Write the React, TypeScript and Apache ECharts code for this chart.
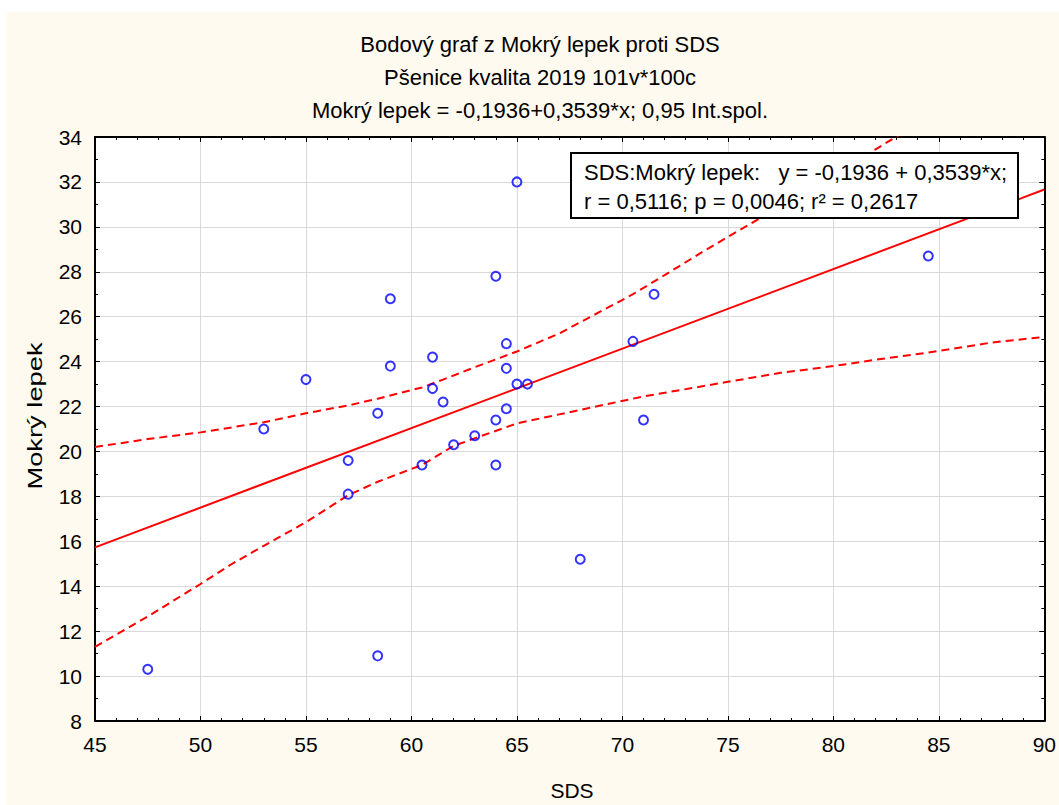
import React, { useEffect, useRef } from "react";
import * as echarts from "echarts";

const FONT = "'Liberation Sans', Arial, sans-serif";

const titleLines = [
  "Bodový graf z Mokrý lepek proti SDS",
  "Pšenice kvalita 2019 101v*100c",
  "Mokrý lepek = -0,1936+0,3539*x; 0,95 Int.spol.",
];
const xAxisName = "SDS";
const yAxisName = "Mokrý lepek";
const statsLine1 = "SDS:Mokrý lepek:   y = -0,1936 + 0,3539*x;";
const statsLine2 = "r = 0,5116; p = 0,0046; r² = 0,2617";

// scatter points (SDS, Mokrý lepek)
const sdsValues = [
  65, 64, 59, 64.5, 61, 59, 55, 64.5, 65, 65.5, 61, 61.5, 58.4, 64.5, 64,
  53, 57, 57, 60.5, 62, 63, 64, 68, 47.5, 58.4, 71.5, 70.5, 71, 84.5,
];
const lepekValues = [
  32.0, 27.8, 26.8, 24.8, 24.2, 23.8, 23.2, 23.7, 23.0, 23.0, 22.8, 22.2, 21.7, 21.9, 21.4,
  21.0, 19.6, 18.1, 19.4, 20.3, 20.7, 19.4, 15.2, 10.3, 10.9, 27.0, 24.9, 21.4, 28.7,
];

// regression line endpoints
const regX = [45, 90];
const regY = [15.73, 31.66];

// 0.95 confidence band
const upperX = [45, 47.5, 50, 53, 55, 57, 58.4, 60.5, 61.5, 63, 65, 67, 68.5, 70.5, 72, 74, 76, 78, 80, 82, 84];
const upperY = [20.2, 20.55, 20.85, 21.3, 21.7, 22.05, 22.35, 22.85, 23.2, 23.75, 24.45, 25.25, 26.0, 27.0, 27.85, 29.0, 30.1, 31.2, 32.3, 33.45, 34.6];
const lowerX = [45, 47.5, 50, 51.5, 53, 55, 57, 58.4, 60.5, 62, 65, 68, 71, 75, 77.5, 80, 82.5, 84.5, 87.5, 90];
const lowerY = [11.3, 12.65, 14.1, 15.0, 15.8, 16.85, 18.05, 18.65, 19.4, 20.25, 21.25, 21.85, 22.45, 23.1, 23.5, 23.8, 24.15, 24.4, 24.85, 25.1];

const xTicks = { min: 45, max: 90, interval: 5 };
const yTicks = { min: 8, max: 34, interval: 2 };

function zip(a: number[], b: number[]) {
  return a.map((v, i) => [v, b[i]]);
}

export default function App() {
  const ref = useRef<HTMLDivElement>(null);
  useEffect(() => {
    if (!ref.current) return;
    const chart = echarts.init(ref.current, undefined, { renderer: "svg" });
    const axisLine = { show: true, onZero: false, lineStyle: { color: "#000", width: 2 } };
    const tick = { show: true, inside: true, length: 5, lineStyle: { color: "#000", width: 1 } };
    const label = { fontSize: 21, color: "#000", fontFamily: FONT };
    const split = { show: true, lineStyle: { color: "#d9d9d9", width: 1, type: "solid" } };
    const dashed = { color: "#ff0000", width: 2, type: [8, 5] };
    const txt = (text: string, size: number, align: string) => ({
      text, fontSize: size, fontFamily: FONT, fill: "#000", textAlign: align, textVerticalAlign: "middle",
    });
    chart.setOption({
      animation: false,
      backgroundColor: "transparent",
      grid: { left: 95, top: 137, right: 12, bottom: 84, show: true, backgroundColor: "#ffffff", borderWidth: 0 },
      xAxis: [
        {
          type: "value", ...xTicks, position: "bottom", axisLine, axisTick: tick,
          minorTick: { show: true, splitNumber: 5, length: 3, lineStyle: { color: "#000" } },
          splitLine: split, axisLabel: { ...label, margin: 13 },
        },
        {
          type: "value", ...xTicks, position: "top", axisLine, axisTick: tick,
          minorTick: { show: true, splitNumber: 5, length: 3, lineStyle: { color: "#000" } },
          splitLine: { show: false }, axisLabel: { show: false },
        },
      ],
      yAxis: [
        {
          type: "value", ...yTicks, position: "left", axisLine, axisTick: tick,
          minorTick: { show: true, splitNumber: 2, length: 3, lineStyle: { color: "#000" } },
          splitLine: split, axisLabel: { ...label, margin: 13 },
        },
        {
          type: "value", ...yTicks, position: "right", axisLine, axisTick: tick,
          minorTick: { show: true, splitNumber: 2, length: 3, lineStyle: { color: "#000" } },
          splitLine: { show: false }, axisLabel: { show: false },
        },
      ],
      series: [
        {
          type: "line", data: zip(upperX, upperY), showSymbol: false, symbol: "none",
          lineStyle: dashed, clip: true, z: 2,
        },
        {
          type: "line", data: zip(lowerX, lowerY), showSymbol: false, symbol: "none",
          lineStyle: dashed, clip: true, z: 2,
        },
        {
          type: "line", data: zip(regX, regY), showSymbol: false, symbol: "none",
          lineStyle: { color: "#ff0000", width: 2 }, z: 3,
        },
        {
          type: "scatter", data: zip(sdsValues, lepekValues), symbol: "circle", symbolSize: 9,
          itemStyle: { color: "rgba(255,255,255,0)", borderColor: "#0000ff", borderWidth: 2 }, z: 4,
        },
      ],
      graphic: [
        ...titleLines.map((t, i) => ({
          type: "text", x: 540, y: 44 + i * 33, style: txt(t, 22, "center"),
        })),
        { type: "text", x: 572, y: 790, style: txt(xAxisName, 21, "center") },
        {
          type: "text", x: 35, y: 416, rotation: Math.PI / 2, scaleX: 1.3,
          style: txt(yAxisName, 21, "center"),
        },
        {
          type: "rect", z: 100,
          shape: { x: 571, y: 153, width: 447, height: 65 },
          style: { fill: "#ffffff", stroke: "#000000", lineWidth: 2 },
        },
        { type: "text", x: 584, y: 172, z: 101, style: txt(statsLine1, 22, "left") },
        { type: "text", x: 584, y: 201, z: 101, style: txt(statsLine2, 22, "left") },
      ],
    });
    return () => chart.dispose();
  }, []);
  return (
    <div style={{ position: "fixed", left: 0, top: 0, width: 1059, height: 805, background: "#ffffff" }}>
      <div style={{ position: "absolute", left: 6, top: 12, right: 0, bottom: 0, background: "#fffaf0" }} />
      <div ref={ref} style={{ position: "absolute", left: 0, top: 0, width: 1059, height: 805 }} />
    </div>
  );
}
